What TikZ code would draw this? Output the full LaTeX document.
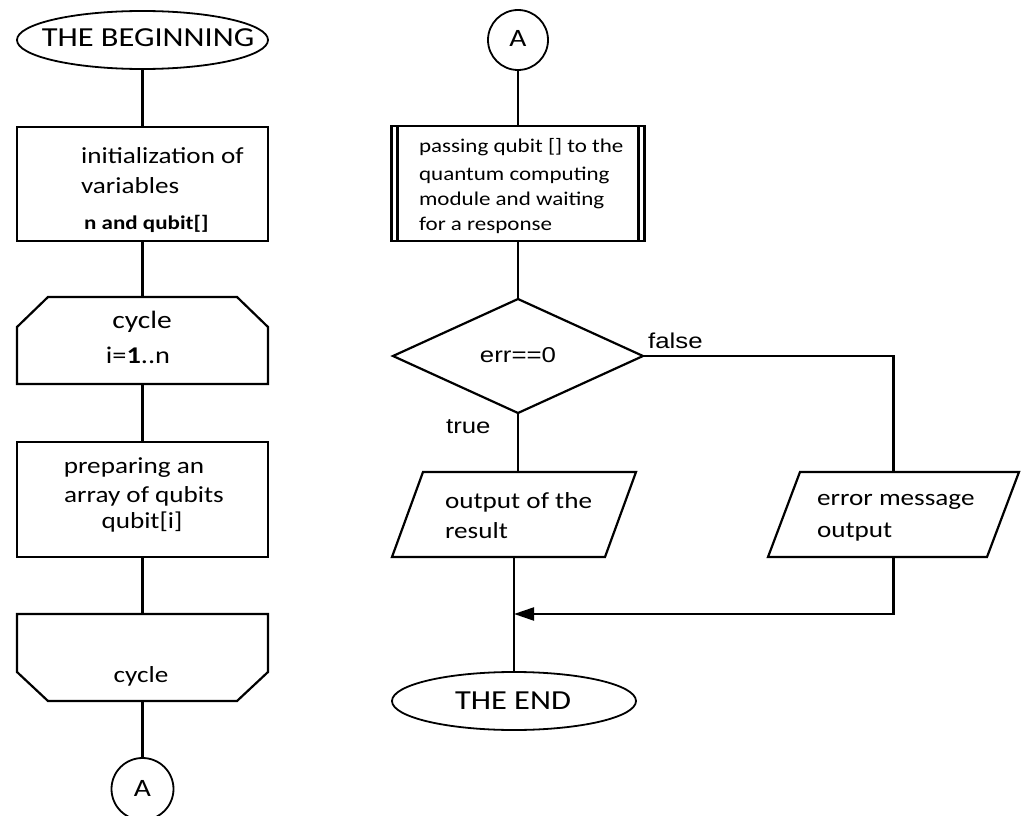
\documentclass[tikz,border=0pt]{standalone}
\usepackage{fontspec}
\setmainfont{Carlito}[FakeStretch=1.18]
\newfontfamily\arialf{Liberation Sans}[FakeStretch=1.2]
\usetikzlibrary{shapes.geometric,arrows.meta}
\begin{document}
\begin{tikzpicture}[x=1pt,y=-1pt, line width=2.2pt,
  frame/.style={rectangle, inner sep=0pt, outer sep=0pt},
  txt/.style={inner sep=0pt, anchor=base west},
  ctxt/.style={inner sep=0pt, anchor=base},
  oval/.style={ellipse, draw, line width=1.8pt, inner sep=0pt},
  conn/.style={circle, draw, line width=1.8pt, inner sep=0pt},
  fA/.style={font=\fontsize{25}{25}\selectfont},
  fB/.style={font=\fontsize{23}{23}\selectfont},
  fC/.style={font=\fontsize{19.5}{19.5}\selectfont},
  fD/.style={font=\arialf\fontsize{21.5}{21.5}\selectfont},
  fE/.style={font=\fontsize{27.5}{27.5}\selectfont},
]
\useasboundingbox (0,0) rectangle (1021,816);
\fill[white] (0,0) rectangle (1021,816);

% ---------- left column ----------
\node[oval, minimum width=251pt, minimum height=58pt] (start) at (142.5,40) {};
\node[ctxt, fE] (startt) at (148,47) {THE BEGINNING};

\node[frame, draw, minimum width=251pt, minimum height=114pt] (b1) at (142.5,184) {};
\node[txt, fB] (b1a) at (80,163) {initialization of};
\node[txt, fB] (b1b) at (80,193) {variables};
\node[txt, font=\fontsize{19.5}{19.5}\selectfont\bfseries] (b1c) at (83,229) {n and qubit[]};

\node[frame, minimum width=251pt, minimum height=87pt] (ls) at (142.5,340.5) {};
\draw ([xshift=31pt]ls.north west) -- ([xshift=-31pt]ls.north east) -- ([yshift=-30pt]ls.north east)
  -- (ls.south east) -- (ls.south west) -- ([yshift=-30pt]ls.north west) -- cycle;
\node[ctxt, fA] (lsa) at (142,328) {cycle};
\node[ctxt, font=\fontsize{24}{24}\selectfont] (lsb) at (138,363) {i=\textbf{1}..n};

\node[frame, draw, minimum width=251pt, minimum height=115pt] (b2) at (142.5,499.5) {};
\node[ctxt, fB] (b2a) at (134,473) {preparing an};
\node[ctxt, fB] (b2b) at (144,502) {array of qubits};
\node[ctxt, fB] (b2c) at (142,528) {qubit[i]};

\node[frame, minimum width=251pt, minimum height=87pt] (le) at (142.5,657.5) {};
\draw (le.north west) -- (le.north east) -- ([yshift=29pt]le.south east) -- ([xshift=-31pt]le.south east)
  -- ([xshift=31pt]le.south west) -- ([yshift=29pt]le.south west) -- cycle;
\node[ctxt, fB] (lea) at (141,682) {cycle};

\node[conn, minimum size=62pt] (a1) at (142.5,789) {};
\node[ctxt, fA] (a1t) at (142.5,796) {A};

% ---------- right column ----------
\node[conn, minimum size=60pt] (a2) at (518,40) {};
\node[ctxt, fA] (a2t) at (518,47) {A};

\node[frame, draw, minimum width=253pt, minimum height=115pt] (sp) at (518,183.5) {};
\draw ([xshift=6pt]sp.north west) -- ([xshift=6pt]sp.south west);
\draw ([xshift=-6pt]sp.north east) -- ([xshift=-6pt]sp.south east);
\node[txt, fC] (spa) at (418,153) {passing qubit [] to the};
\node[txt, fC] (spb) at (418,180) {quantum computing};
\node[txt, fC] (spc) at (418,205) {module and waiting};
\node[txt, fC] (spd) at (418,230) {for a response};

\node[frame, minimum width=250pt, minimum height=114pt] (dd) at (518,356) {};
\draw (dd.north) -- (dd.east) -- (dd.south) -- (dd.west) -- cycle;
\node[ctxt, fD] (ddt) at (518,362) {err==0};
\node[txt, fD] (fl) at (647,348) {false};
\node[txt, fD] (tr) at (445,433) {true};

\node[frame, minimum width=244pt, minimum height=85pt] (o1) at (514,514.5) {};
\draw ([xshift=31pt]o1.north west) -- (o1.north east) -- ([xshift=-31pt]o1.south east) -- (o1.south west) -- cycle;
\node[txt, fB] (o1a) at (444,508) {output of the};
\node[txt, fB] (o1b) at (444,538) {result};

\node[frame, minimum width=251pt, minimum height=85pt] (err) at (893.5,514.5) {};
\draw ([xshift=32pt]err.north west) -- (err.north east) -- ([xshift=-32pt]err.south east) -- (err.south west) -- cycle;
\node[txt, fB] (erra) at (816,505) {error message};
\node[txt, fB] (errb) at (816,537) {output};

\node[oval, minimum width=244pt, minimum height=58pt] (endd) at (514,701) {};
\node[ctxt, fE] (endt) at (513,709) {THE END};

% ---------- connectors ----------
\draw (start.south) -- (b1.north);
\draw (b1.south) -- (ls.north);
\draw (ls.south) -- (b2.north);
\draw (b2.south) -- (le.north);
\draw (le.south) -- (a1.north);
\draw (a2.south) -- (sp.north);
\draw (sp.south) -- (dd.north);
\draw (dd.east) -| (err.north);
\draw (dd.south) -- (dd.south |- o1.north);
\draw (o1.south) -- (endd.north);
\coordinate (mrg) at (514,614);
\draw[-{Triangle[length=20pt,width=13pt]}] (err.south) |- (mrg);
\end{tikzpicture}
\end{document}
